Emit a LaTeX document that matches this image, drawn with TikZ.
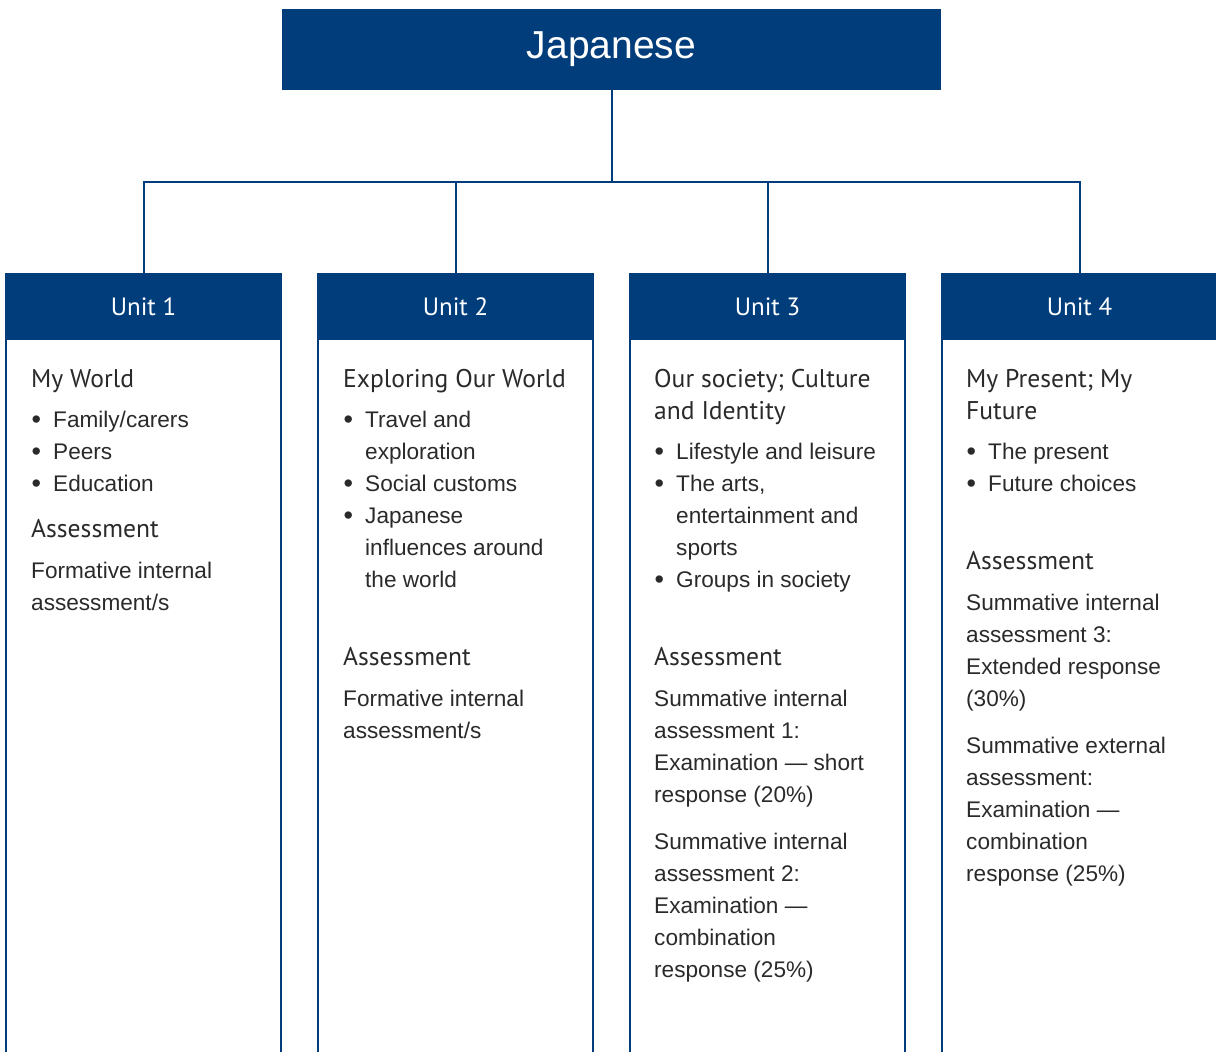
\documentclass[tikz,border=0pt]{standalone}
\usepackage{fontspec}
\setmainfont{Liberation Sans}
\newfontfamily\headfont{PT Sans}
\definecolor{navy}{HTML}{023D7B}
\definecolor{ink}{HTML}{2A2A2A}

% bullet with hanging indent inside a left-aligned tabular
\newcommand{\bul}[1]{\makebox[22pt][l]{\hspace{0.5pt}\raisebox{-1.2pt}{\fontsize{27}{32}\selectfont\textbullet}}#1}
\newcommand{\cont}[1]{\hspace*{22pt}#1}

\tikzset{
  titlebox/.style={fill=navy, text=white, minimum width=659pt, minimum height=81pt,
    inner sep=0pt, font=\fontsize{39}{40}\selectfont},
  unithead/.style={fill=navy, text=white, minimum width=277pt, minimum height=67pt,
    inner sep=0pt, font=\headfont\fontsize{25}{26}\selectfont},
  link/.style={draw=navy, line width=2pt},
  frame/.style={draw=navy, line width=2.4pt},
  heading/.style={anchor=base west, inner sep=0pt, text=ink,
    font=\headfont\fontsize{25.6}{32}\selectfont},
  bodytext/.style={anchor=base west, inner sep=0pt, text=ink,
    font=\fontsize{22.6}{32}\selectfont},
}

\begin{document}
\begin{tikzpicture}[x=1pt,y=-1pt]
\useasboundingbox (0,0) rectangle (1216,1052);
\clip (0,0) rectangle (1216,1052);

% title and unit headers
\node[titlebox] (title) at (611.5,49.5) {Japanese};
\node[unithead] (u1) at (143.5,306.5) {Unit 1};
\node[unithead] (u2) at (455.5,306.5) {Unit 2};
\node[unithead] (u3) at (767.5,306.5) {Unit 3};
\node[unithead] (u4) at (1079.5,306.5) {Unit 4};

% connectors
\coordinate (bus) at (611.5,182);
\draw[link] (title.south) -- (bus);
\draw[link] (u1.north) |- (bus) -| (u4.north);
\draw[link] (u2.north) -- (u2.north |- bus);
\draw[link] (u3.north) -- (u3.north |- bus);

% column frames below the headers
\foreach \l/\r in {6.2/280.8, 318.2/592.8, 630.2/904.8} {
  \draw[frame] (\l,338) -- (\l,1060);
  \draw[frame] (\r,338) -- (\r,1060);
}
\draw[frame] (942.2,338) -- (942.2,1060);

% Unit 1
\node[heading] (h1) at (31,387) {My World};
\node[bodytext] (b1) at (31,427) {\begin{tabular}[t]{@{}l@{}}
  \bul{Family/carers}\\ \bul{Peers}\\ \bul{Education}\end{tabular}};
\node[heading] (a1) at (31,537) {Assessment};
\node[bodytext] (t1) at (31,578) {\begin{tabular}[t]{@{}l@{}}
  Formative internal\\ assessment/s\end{tabular}};

% Unit 2
\node[heading] (h2) at (343,387) {Exploring Our World};
\node[bodytext] (b2) at (343,427) {\begin{tabular}[t]{@{}l@{}}
  \bul{Travel and}\\ \cont{exploration}\\ \bul{Social customs}\\
  \bul{Japanese}\\ \cont{influences around}\\ \cont{the world}\end{tabular}};
\node[heading] (a2) at (343,665) {Assessment};
\node[bodytext] (t2) at (343,706) {\begin{tabular}[t]{@{}l@{}}
  Formative internal\\ assessment/s\end{tabular}};

% Unit 3
\node[heading] (h3) at (654,387) {\begin{tabular}[t]{@{}l@{}}
  Our society; Culture\\ and Identity\end{tabular}};
\node[bodytext] (b3) at (654,459) {\begin{tabular}[t]{@{}l@{}}
  \bul{Lifestyle and leisure}\\ \bul{The arts,}\\ \cont{entertainment and}\\
  \cont{sports}\\ \bul{Groups in society}\end{tabular}};
\node[heading] (a3) at (654,665) {Assessment};
\node[bodytext] (t3) at (654,706) {\begin{tabular}[t]{@{}l@{}}
  Summative internal\\ assessment 1:\\ Examination --- short\\ response (20\%)\end{tabular}};
\node[bodytext] (s3) at (654,849) {\begin{tabular}[t]{@{}l@{}}
  Summative internal\\ assessment 2:\\ Examination ---\\ combination\\ response (25\%)\end{tabular}};

% Unit 4
\node[heading] (h4) at (966,387) {\begin{tabular}[t]{@{}l@{}}
  My Present; My\\ Future\end{tabular}};
\node[bodytext] (b4) at (966,459) {\begin{tabular}[t]{@{}l@{}}
  \bul{The present}\\ \bul{Future choices}\end{tabular}};
\node[heading] (a4) at (966,569) {Assessment};
\node[bodytext] (t4) at (966,610) {\begin{tabular}[t]{@{}l@{}}
  Summative internal\\ assessment 3:\\ Extended response\\ (30\%)\end{tabular}};
\node[bodytext] (s4) at (966,753) {\begin{tabular}[t]{@{}l@{}}
  Summative external\\ assessment:\\ Examination ---\\ combination\\ response (25\%)\end{tabular}};
\end{tikzpicture}
\end{document}
